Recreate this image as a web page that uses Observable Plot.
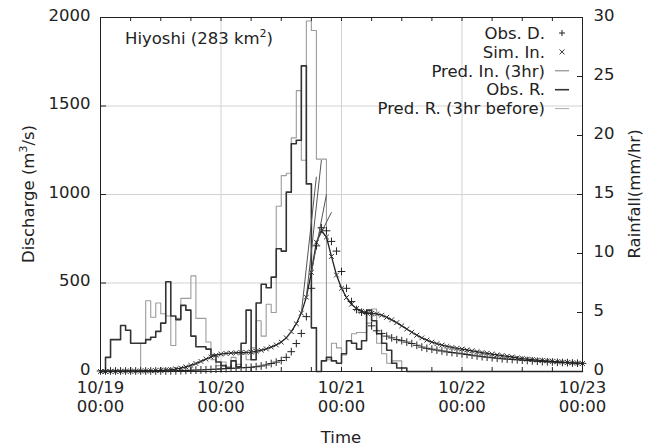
<!DOCTYPE html>
<html><head><meta charset="utf-8">
<script src="https://cdn.jsdelivr.net/npm/d3@7"></script>
<script src="https://cdn.jsdelivr.net/npm/@observablehq/plot@0.6"></script>
<style>body{margin:0;background:#fff}</style>
</head><body><div id="chart"></div>
<script>
// hours since 10/19 00:00
const hours = d3.range(0, 97);
// discharge (m3/s), hourly
const simIn = [0,0,1,1,1,2,2,2,3,3, 4,5,6,8,10,14,19,26,35,45, 57,70,82,92,98,102,104,106,107,108,
  110,114,120,128,138,150,166,190,225,270, 330,420,560,730,795,760,650,545,470,418,
  380,355,340,332,328,325,318,306,292,276, 258,240,222,205,190,177,166,157,149,142,
  136,131,127,122,117,112,107,103,98,94, 90,86,82,77,73,70,67,64,62,60, 57,55,53,51,49,47,45];
const obsD = [3,3,3,3,3,3,3,3,3,3, 3,3,3,3,3,4,5,6,7,8, 9,10,12,13,15,16,18,19,21,22,
  24,27,31,37,45,53,62,80,112,158, 215,310,470,710,812,795,735,680,565,470,
  395,350,335,328,258,230,215,200,190,180, 174,166,158,148,138,131,126,121,116,111,
  107,104,100,96,92,88,84,81,78,75, 72,70,68,66,64,62,60,58,56,55, 54,52,51,50,48,47,46];
// 3-hour-ahead predictions that depart from the simulated curve
const predFrom = [40, 41, 42, 43];
const predTo = [1100, 1195, 1000, 900];
// rainfall (mm/hr), hourly steps
const obsR = [0,1.2,2.7,2.7,3.9,3.5,2.4,2.4,2.4,2.7, 2.9,3.4,4.1,7.6,4.7,4.4,5.6,5.2,3.0,2.1,
  2.1,1.9,1.4,0.8,0.5,0.3,0.9,0.4,2.4,5.2, 1.0,5.8,7.4,7.1,8.0,10.4,10.2,15.2,19.3,19.6,
  25.9,15.9,3.7,0,0.9,1.2,0.9,0.7,1.5,2.6, 2.4,1.9,2.6,5.2,4.3,3.2,2.4,1.8,0.7,0.3,
  0.3,0,0,0,0,0,0,0,0,0, 0,0,0,0,0,0,0,0,0,0, 0,0,0,0,0,0,0,0,0,0, 0,0,0,0,0,0];
const predR = [0,0,0,0,0,0,0,0,2.4,6.0, 4.6,5.8,4.9,4.7,2.2,4.5,6.2,6.2,8.1,4.5,
  4.5,2.5,1.0,0.5,0.8,0.4,1.2,0.6,1.5,1.0, 2.0,4.3,3.0,5.7,5.0,14.0,16.6,16.8,19.8,23.8,
  17.9,29.7,28.9,18.0,18.0,1.0,2.4,2.0,1.4,2.6, 3.2,3.3,3.3,4.1,5.3,2.4,1.5,0.7,0.9,0.9,
  0.3,0,0,0,0,0,0,0,0,0, 0,0,0,0,0,0,0,0,0,0, 0,0,0,0,0,0,0,0,0,0, 0,0,0,0,0,0];
// axes
const xTicks = [0, 24, 48, 72, 96];
const xTickLabels = ["10/19\n00:00", "10/20\n00:00", "10/21\n00:00", "10/22\n00:00", "10/23\n00:00"];
const minorX = d3.range(0, 97, 6);
const yTicks = [0, 500, 1000, 1500, 2000];
const rainTicks = [0, 5, 10, 15, 20, 25, 30];
const legendLabels = ["Obs. D.", "Sim. In.", "Pred. In. (3hr)", "Obs. R.", "Pred. R. (3hr before)"];

const k = 2000 / 30; // rainfall -> discharge axis
const stepData = arr => arr.map((v, i) => ({h: i, v: v * k})).concat([{h: arr.length, v: arr[arr.length - 1] * k}]);
const lbl = new Map(xTicks.map((t, i) => [t, xTickLabels[i]]));
const W = 648, H = 448, mL = 100, mR = 66, mT = 17, mB = 77;
const yPerPx = 2000 / (H - mT - mB), xPerPx = 96 / (W - mL - mR);

const svg = Plot.plot({
  width: W, height: H, marginLeft: mL, marginRight: mR, marginTop: mT, marginBottom: mB,
  style: {fontFamily: "DejaVu Sans", fontSize: "16.5px", background: "white", color: "#222"},
  x: {domain: [0, 96]},
  y: {domain: [0, 2000]},
  marks: [
    Plot.ruleX([24, 48, 72], {stroke: "#d2d2d2"}),
    Plot.ruleY([500, 1000, 1500], {stroke: "#d2d2d2"}),
    Plot.line(stepData(predR), {x: "h", y: "v", curve: "step-after", stroke: "#9c9c9c", strokeWidth: 1.1}),
    Plot.line(stepData(obsR), {x: "h", y: "v", curve: "step-after", stroke: "#333", strokeWidth: 1.6}),
    Plot.line(hours, {x: d => d, y: d => simIn[d], stroke: "#222", strokeWidth: 1.3}),
    Plot.link(predFrom, {x1: d => d, y1: d => simIn[d], x2: d => d + 3, y2: (d, i) => predTo[i], stroke: "#555", strokeWidth: 1}),
    Plot.dot(hours, {x: d => d, y: d => simIn[d], symbol: "times", r: 2.3, stroke: "#333", strokeWidth: 1}),
    Plot.dot(hours, {x: d => d, y: d => obsD[d], symbol: "plus", r: 2.6, stroke: "#222", strokeWidth: 1}),
    Plot.frame({stroke: "#222"}),
    Plot.ruleX(minorX, {y1: 0, y2: 4 * yPerPx, stroke: "#222"}),
    Plot.ruleX(minorX, {y1: 2000 - 4 * yPerPx, y2: 2000, stroke: "#222"}),
    Plot.ruleY(yTicks, {x1: 0, x2: 6 * xPerPx, stroke: "#222"}),
    Plot.ruleY(rainTicks.map(r => r * k), {x1: 96 - 5 * xPerPx, x2: 96, stroke: "#222"}),
    Plot.axisY({ticks: yTicks, tickSize: 0, tickPadding: 10, dy: -2, label: null, tickFormat: d => String(d)}),
    Plot.axisY({anchor: "right", ticks: rainTicks.map(r => r * k), tickSize: 0, tickPadding: 11, dy: -2, label: null,
      tickFormat: d => String(Math.round(d / k))}),
    Plot.axisX({ticks: xTicks, tickSize: 0, tickPadding: 9, label: null, lineHeight: 1.1, tickFormat: d => lbl.get(d)})
  ]
});
document.getElementById("chart").appendChild(svg);

const s = d3.select(svg);
const txt = (x, y, anchor) => s.append("text").attr("x", x).attr("y", y).attr("text-anchor", anchor)
  .attr("fill", "#222").style("font-family", "DejaVu Sans").style("font-size", "16.5px");
// title
const t = txt(125, 44, "start");
t.append("tspan").text("Hiyoshi (283 km");
t.append("tspan").attr("dy", -7).style("font-size", "11px").text("2");
t.append("tspan").attr("dy", 7).text(")");
// axis labels
const yl = s.append("text").attr("transform", "translate(34,194) rotate(-90)").attr("text-anchor", "middle")
  .attr("fill", "#222").style("font-family", "DejaVu Sans").style("font-size", "16.5px");
yl.append("tspan").text("Discharge (m");
yl.append("tspan").attr("dy", -7).style("font-size", "11px").text("3");
yl.append("tspan").attr("dy", 7).text("/s)");
s.append("text").attr("transform", "translate(640,194) rotate(-90)").attr("text-anchor", "middle")
  .attr("fill", "#222").style("font-family", "DejaVu Sans").style("font-size", "16.5px").text("Rainfall(mm/hr)");
txt(341, 443, "middle").text("Time");
// legend
const ly0 = 33, ldy = 18.9, lx = 545, sx = 562;
legendLabels.forEach((l, i) => {
  const y = ly0 + i * ldy;
  txt(lx, y, "end").attr("dy", "0.35em").text(l);
});
const g = s.append("g").attr("fill", "none");
g.append("path").attr("d", `M${sx-3},${ly0}h6M${sx},${ly0-3}v6`).attr("stroke", "#222");
g.append("path").attr("d", `M${sx-2.5},${ly0+ldy-2.5}l5,5M${sx+2.5},${ly0+ldy-2.5}l-5,5`).attr("stroke", "#333");
g.append("path").attr("d", `M${sx-7},${ly0+2*ldy}h14`).attr("stroke", "#777");
g.append("path").attr("d", `M${sx-7},${ly0+3*ldy}h14`).attr("stroke", "#333").attr("stroke-width", 1.6);
g.append("path").attr("d", `M${sx-7},${ly0+4*ldy}h14`).attr("stroke", "#aaa");
</script>
</body></html>
